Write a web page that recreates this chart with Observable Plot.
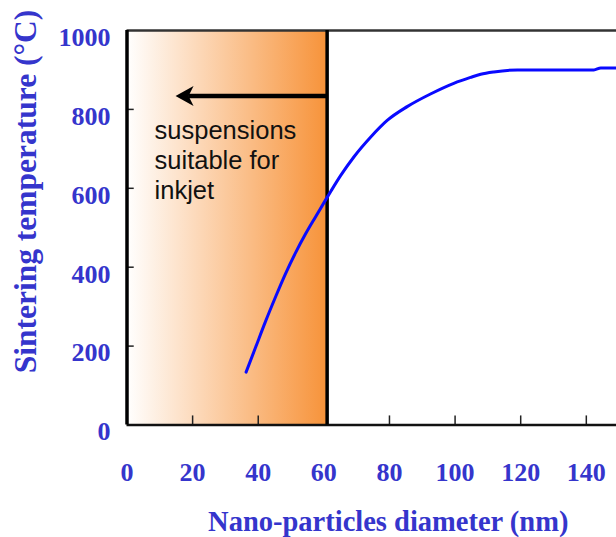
<!DOCTYPE html>
<html>
<head>
<meta charset="utf-8">
<script src="https://cdn.jsdelivr.net/npm/d3@7"></script>
<script src="https://cdn.jsdelivr.net/npm/@observablehq/plot@0.6"></script>
<style>
  html, body { margin: 0; padding: 0; background: #fff; overflow: hidden; }
</style>
</head>
<body>
<div id="chart"></div>
<script>
// Curve data
const diameter    = [36.3, 39.2, 42.2, 45.3, 48.3, 51.4, 54.4, 57.5, 60.5, 62.1, 65.1, 69.2, 74.3, 79.3, 85.4, 92.5, 99.6, 104.7, 107.8, 111.8, 119, 130, 142.3, 144.4, 149.2];
const temperature = [134, 197, 262, 325, 383, 437, 484, 528, 570, 592, 632, 680, 730, 772, 807, 839, 866, 881, 889, 895, 900, 900, 900, 905, 905];

// Axis ticks
const xTicks = [0, 20, 40, 60, 80, 100, 120, 140];
const yTicks = [0, 200, 400, 600, 800, 1000];
const xInnerTicks = [20, 40, 80, 100, 120, 140];
const yInnerTicks = [200, 400, 600, 800];

// Region and annotation
const inkjetLimit = 61;
const arrowTo = 14.8;
const arrowLevel = 834;
const noteLines = ["suspensions", "suitable for", "inkjet"];
const noteX = 8.4;
const noteY = 780;

const xLabel = "Nano-particles diameter (nm)";
const yLabel = "Sintering temperature (°C)";

const blue = "#3535cc";
const xMax = 149.2;

const curve = diameter.map((d, i) => ({d, t: temperature[i]}));

// gradient definition mark
const defsMark = () => {
  const defs = d3.create("svg:defs");
  const g = defs.append("linearGradient").attr("id", "inkjetGrad")
    .attr("x1", "0").attr("x2", "1").attr("y1", "0").attr("y2", "0");
  g.append("stop").attr("offset", "0").attr("stop-color", "#ffffff");
  g.append("stop").attr("offset", "1").attr("stop-color", "#f7933a");
  return defs.node();
};

// stealth arrowhead symbol, tip at origin pointing left
const arrowHead = {
  draw(ctx, size) {
    const r = Math.sqrt(size / Math.PI);
    ctx.moveTo(0, 0);
    ctx.lineTo(1.8 * r, -r);
    ctx.lineTo(1.3 * r, 0);
    ctx.lineTo(1.8 * r, r);
    ctx.closePath();
  }
};

const chart = Plot.plot({
  width: 616,
  height: 537,
  marginLeft: 126.5,
  marginRight: 0,
  marginTop: 30,
  marginBottom: 112.5,
  x: {domain: [0, xMax], label: null, axis: null},
  y: {domain: [0, 1000], label: null, axis: null},
  style: {fontFamily: "Liberation Serif", background: "white", overflow: "visible"},
  marks: [
    defsMark,
    Plot.rect([{a: 0, b: inkjetLimit, lo: 0, hi: 1000}], {x1: "a", x2: "b", y1: "lo", y2: "hi", fill: "url(#inkjetGrad)"}),
    // ticks (inward)
    Plot.ruleX(xInnerTicks, {x: d => d, y1: 0, y2: 23, stroke: "#222", strokeWidth: 1.5}),
    Plot.ruleY(yInnerTicks, {y: d => d, x1: 0, x2: 2.2, stroke: "#222", strokeWidth: 1.5}),
    // frame lines
    Plot.ruleY([1000], {x1: 0, x2: xMax, stroke: "#333", strokeWidth: 2.5}),
    Plot.ruleY([0], {x1: 0, x2: xMax, stroke: "#111", strokeWidth: 2.5}),
    Plot.ruleX([0], {y1: 0, y2: 1000, stroke: "#000", strokeWidth: 3.5}),
    Plot.ruleX([inkjetLimit], {y1: 0, y2: 1000, stroke: "#000", strokeWidth: 3.5}),
    // arrow
    Plot.ruleY([arrowLevel], {x1: inkjetLimit, x2: arrowTo + 4, stroke: "#000", strokeWidth: 4.5}),
    Plot.dot([arrowLevel], {x: arrowTo, y: d => d, symbol: arrowHead, r: 10, fill: "#000", stroke: "none"}),
    // annotation
    Plot.text([noteLines.join("\n")], {x: noteX, y: noteY, textAnchor: "start", lineAnchor: "top",
      lineHeight: 1.18, fontSize: 25.5, fontFamily: "Liberation Sans", fill: "#111"}),
    // curve
    Plot.line(curve, {x: "d", y: "t", stroke: "#0a0aff", strokeWidth: 3, curve: "monotone-x"}),
    // tick labels
    Plot.text(xTicks, {x: d => d, text: d => String(d), frameAnchor: "bottom", lineAnchor: "middle", dy: 48,
      fontSize: 26, fontWeight: "bold", fill: blue}),
    Plot.text(yTicks, {y: d => d, text: d => String(d), frameAnchor: "left", dx: -16.5, dy: 7, textAnchor: "end",
      lineAnchor: "middle", fontSize: 26, fontWeight: "bold", fill: blue}),
    // axis titles
    Plot.text([xLabel], {frameAnchor: "bottom", textAnchor: "middle", lineAnchor: "middle", dx: 16.5, dy: 96.5,
      fontSize: 28.5, fontWeight: "bold", fill: blue}),
    Plot.text([yLabel], {frameAnchor: "top-left", textAnchor: "middle", lineAnchor: "middle", dx: -101, dy: 161,
      rotate: -90, fontSize: 31.5, fontWeight: "bold", fill: blue})
  ]
});

document.getElementById("chart").appendChild(chart);
</script>
</body>
</html>
